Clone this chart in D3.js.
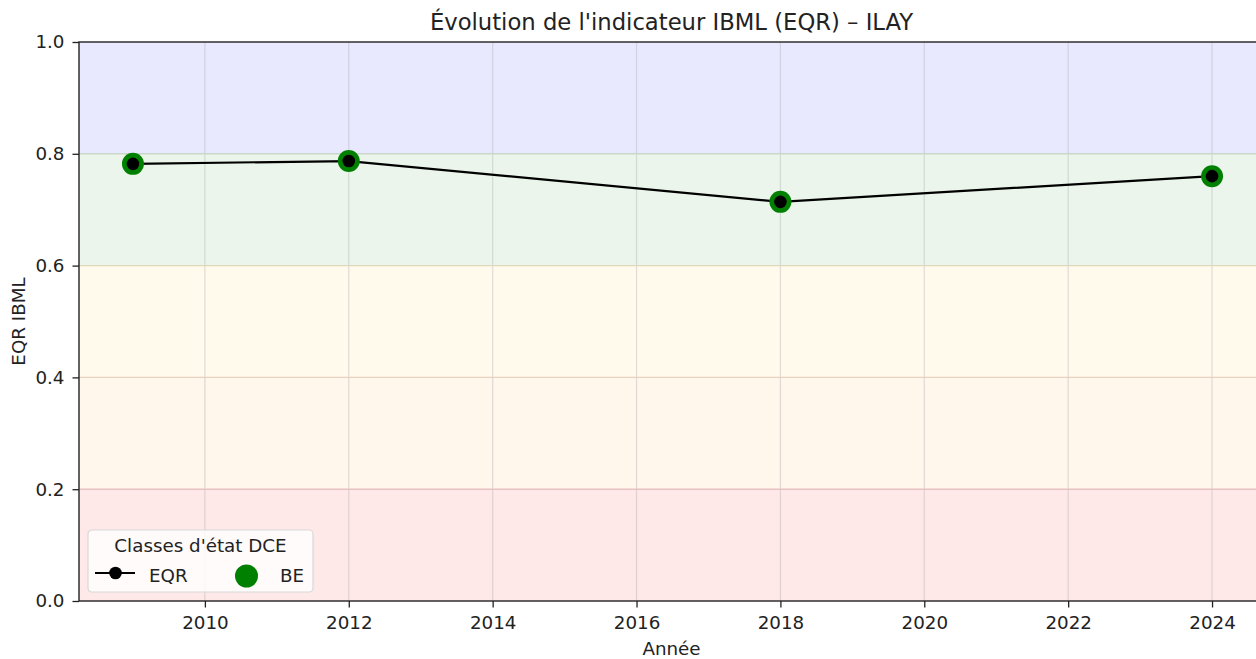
<!DOCTYPE html>
<html>
<head>
<meta charset="utf-8">
<script src="https://cdn.jsdelivr.net/npm/d3@7"></script>
<style>
  body { margin: 0; background: #fff; }
  svg { font-family: "DejaVu Sans", sans-serif; display: block; }
</style>
</head>
<body>
<svg id="chart" width="1256" height="659"></svg>
<script>
// data
const years = [2009, 2012, 2018, 2024];
const eqr = [0.782, 0.787, 0.714, 0.760];
const yTicks = [0.0, 0.2, 0.4, 0.6, 0.8, 1.0];
const xTicks = [2010, 2012, 2014, 2016, 2018, 2020, 2022, 2024];
const bandLimits = [0, 0.2, 0.4, 0.6, 0.8, 1.0];
const bandColors = ["rgba(255,0,0,0.09)", "rgba(255,140,0,0.075)", "rgba(255,190,0,0.075)", "rgba(0,128,0,0.08)", "rgba(0,0,255,0.09)"];
const bandEdges = ["#e8c2c2", "#e6d3bf", "#e0d8bb", "#c9d8c9", "#c3c3e6"];

const FS = 18.3;
const svg = d3.select("#chart");
const m = { left: 79, top: 42, right: 1266, bottom: 601 };

const x = d3.scaleLinear().domain([2008.25, 2024.75]).range([m.left, m.right]);
const y = d3.scaleLinear().domain([0, 1]).range([m.bottom, m.top]);

const plot = svg.append("g");

// colour bands
bandColors.forEach((c, i) => {
  plot.append("rect")
    .attr("x", m.left).attr("width", m.right - m.left)
    .attr("y", y(bandLimits[i + 1])).attr("height", y(bandLimits[i]) - y(bandLimits[i + 1]))
    .attr("fill", c);
});

// grid
plot.selectAll(".gx").data(xTicks).join("line")
  .attr("x1", d => x(d)).attr("x2", d => x(d))
  .attr("y1", m.top).attr("y2", m.bottom)
  .attr("stroke", "#b0b0b0").attr("stroke-opacity", 0.4).attr("stroke-width", 1.2);
plot.selectAll(".gy").data(bandLimits.slice(1, -1)).join("line")
  .attr("x1", m.left).attr("x2", m.right)
  .attr("y1", d => y(d)).attr("y2", d => y(d))
  .attr("stroke", (d, i) => bandEdges[i]).attr("stroke-width", 1.4);

// series
const line = d3.line().x((d, i) => x(years[i])).y(d => y(d));
plot.append("path").datum(eqr)
  .attr("d", line).attr("fill", "none")
  .attr("stroke", "#000").attr("stroke-width", 2.2);
plot.selectAll(".be").data(eqr).join("circle")
  .attr("cx", (d, i) => x(years[i])).attr("cy", d => y(d))
  .attr("r", 11).attr("fill", "#008000");
plot.selectAll(".pt").data(eqr).join("circle")
  .attr("cx", (d, i) => x(years[i])).attr("cy", d => y(d))
  .attr("r", 6.3).attr("fill", "#000");

// axes
const xAxis = d3.axisBottom(x).tickValues(xTicks).tickFormat(d3.format("d")).tickSize(6.5).tickPadding(9);
const yAxis = d3.axisLeft(y).tickValues(yTicks).tickFormat(d3.format(".1f")).tickSize(6.5).tickPadding(8);
svg.append("g").attr("transform", `translate(0,${m.bottom})`).call(xAxis);
svg.append("g").attr("transform", `translate(${m.left},0)`).call(yAxis);
svg.selectAll(".tick text").attr("font-size", FS).attr("fill", "#222").attr("font-family", "DejaVu Sans");
svg.selectAll(".tick line").attr("stroke", "#222").attr("stroke-width", 1.3);
svg.selectAll(".domain").remove();

// spines
svg.append("rect")
  .attr("x", m.left).attr("y", m.top)
  .attr("width", m.right - m.left).attr("height", m.bottom - m.top)
  .attr("fill", "none").attr("stroke", "#222").attr("stroke-width", 1.4);

// labels
svg.append("text").attr("x", 671.5).attr("y", 30)
  .attr("text-anchor", "middle").attr("font-size", 22.7).attr("fill", "#222")
  .text("Évolution de l'indicateur IBML (EQR) – ILAY");
svg.append("text").attr("x", 671.5).attr("y", 655)
  .attr("text-anchor", "middle").attr("font-size", FS).attr("fill", "#222")
  .text("Année");
svg.append("text").attr("transform", `translate(25,${(m.top + m.bottom) / 2}) rotate(-90)`)
  .attr("text-anchor", "middle").attr("font-size", FS).attr("fill", "#222")
  .text("EQR IBML");

// legend
const lg = svg.append("g").attr("transform", "translate(88,530)");
lg.append("rect").attr("width", 225).attr("height", 62).attr("rx", 4)
  .attr("fill", "rgba(255,255,255,0.8)").attr("stroke", "#d8d8d8").attr("stroke-width", 1.2);
lg.append("text").attr("x", 112.5).attr("y", 22).attr("text-anchor", "middle")
  .attr("font-size", FS).attr("fill", "#222").text("Classes d'état DCE");
lg.append("line").attr("x1", 7).attr("x2", 47).attr("y1", 43).attr("y2", 43)
  .attr("stroke", "#000").attr("stroke-width", 2.2);
lg.append("circle").attr("cx", 27.5).attr("cy", 43).attr("r", 6.3).attr("fill", "#000");
lg.append("text").attr("x", 61).attr("y", 52).attr("font-size", FS).attr("fill", "#222").text("EQR");
lg.append("circle").attr("cx", 158.5).attr("cy", 46).attr("r", 11.5).attr("fill", "#008000");
lg.append("text").attr("x", 192).attr("y", 52).attr("font-size", FS).attr("fill", "#222").text("BE");
</script>
</body>
</html>
